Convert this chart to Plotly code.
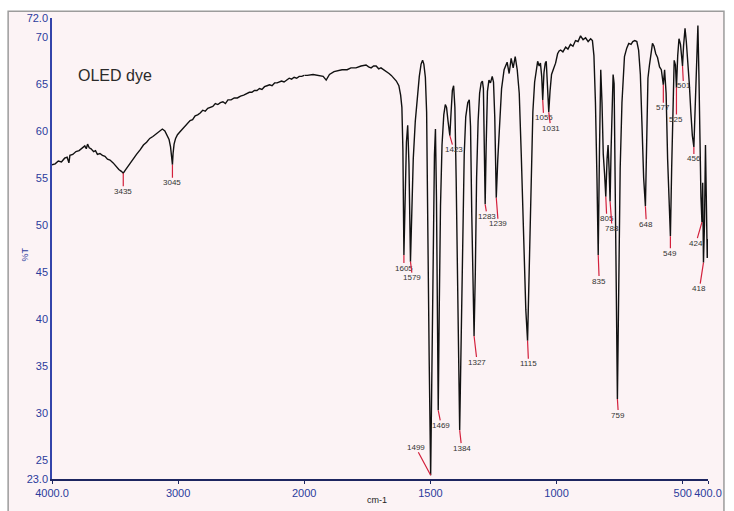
import plotly.graph_objects as go

# IR transmission spectrum of an OLED dye (wavenumber in cm-1, %T)
wavenumber = [
    4000, 3975, 3950, 3925, 3900, 3880, 3866, 3858, 3835, 3810, 3785, 3760, 3740, 3728, 3718,
    3705, 3690, 3670, 3655, 3640, 3620, 3600, 3580, 3560, 3540, 3515, 3490, 3470, 3450, 3435,
    3420, 3400, 3380, 3355, 3330, 3300, 3275, 3250, 3225, 3200, 3175, 3150, 3125, 3105, 3088,
    3072, 3060, 3052, 3045, 3040, 3032, 3020, 3005, 2985, 2965, 2945, 2925, 2905, 2885, 2865,
    2845, 2825, 2805, 2785, 2765, 2745, 2725, 2705, 2685, 2665, 2645, 2625, 2605, 2580, 2555,
    2530, 2505, 2480, 2455, 2435, 2415, 2395, 2375, 2355, 2335, 2315, 2295, 2275, 2255, 2235,
    2215, 2198, 2180, 2160, 2140, 2119, 2100, 2080, 2060, 2040, 2020, 2000,
    1988, 1965, 1941, 1925, 1913, 1900, 1882, 1865, 1850, 1830, 1815, 1795, 1775, 1755, 1745,
    1735, 1725, 1715, 1705, 1696, 1684, 1672, 1664, 1655, 1645, 1635, 1625, 1618, 1613, 1609,
    1605, 1600, 1595, 1590, 1585, 1579, 1574, 1568, 1560, 1552, 1544, 1537, 1531, 1526, 1520,
    1515, 1510, 1505, 1499, 1494, 1489, 1484, 1480, 1476, 1472, 1469, 1465, 1460, 1454, 1447,
    1441, 1436, 1430, 1423, 1418, 1413, 1408, 1403, 1398, 1392, 1384, 1378, 1372, 1366, 1360,
    1352, 1346, 1341, 1336, 1332, 1327, 1322, 1317, 1311, 1305, 1299, 1294, 1290, 1286, 1283,
    1279, 1274, 1268, 1262, 1255, 1250, 1245, 1239, 1233, 1226, 1218, 1208, 1196, 1188, 1180,
    1172, 1164, 1156, 1148, 1140, 1131, 1122, 1115, 1108, 1101, 1094, 1087, 1080, 1075, 1069,
    1064, 1059, 1055, 1050, 1045, 1041, 1036, 1031, 1026, 1020, 1012, 1004, 996, 990, 984,
    975, 964, 955, 945, 935, 925, 915, 905, 895, 885, 875, 865, 858, 852, 846,
    840, 835, 830, 825, 820, 815, 810, 805, 800, 796, 792, 788, 784, 780, 776,
    772, 767, 763, 759, 754, 748, 741, 731, 722, 714, 705, 698, 690, 682, 675,
    668, 662, 655, 648, 643, 638, 632, 626, 620, 614, 607, 600, 592, 585, 577,
    572, 566, 560, 554, 549, 544, 539, 534, 529, 525, 520, 515, 509, 505, 501,
    497, 494, 491, 486, 480, 474, 468, 462, 456, 451, 446, 440, 436, 432, 428,
    424, 421, 418, 414, 410, 406, 403, 400,
]
transmittance = [
    56.4, 56.5, 56.8, 56.7, 57.1, 57.2, 56.6, 57.4, 57.5, 57.8, 57.9, 58.2, 58.4, 58.1, 58.6,
    58.2, 58.1, 57.8, 57.9, 57.5, 57.6, 57.4, 57.3, 57.0, 56.9, 56.6, 56.2, 55.9, 55.7, 55.5,
    55.8, 56.2, 56.6, 57.1, 57.5, 58.0, 58.5, 58.8, 59.2, 59.4, 59.7, 59.9, 60.2, 60.0, 59.6,
    59.1, 58.3, 57.2, 56.4, 57.6, 58.6, 59.2, 59.6, 59.9, 60.2, 60.6, 60.8, 61.1, 61.2, 61.6,
    61.7, 61.9, 62.2, 62.1, 62.4, 62.5, 62.6, 62.9, 62.8, 63.0, 63.1, 62.9, 63.3, 63.3, 63.5,
    63.5, 63.7, 63.8, 64.0, 64.1, 64.1, 64.3, 64.3, 64.5, 64.4, 64.7, 64.8, 64.9, 64.8, 65.1,
    65.1, 65.2, 65.3, 65.2, 65.4, 65.6, 65.5, 65.7, 65.6, 65.8, 65.8, 65.9,
    65.9, 66.0, 65.9, 65.8, 65.4, 66.0, 66.3, 66.4, 66.5, 66.5, 66.7, 66.7, 66.9, 67.0, 66.8,
    66.7, 66.9, 66.9, 66.6, 66.7, 66.5, 66.3, 66.1, 65.9, 65.6, 65.3, 64.8, 63.8, 62.5, 58.0,
    46.8, 55.0, 58.8, 60.6, 56.5, 46.1, 51.5, 57.0, 61.0, 63.8, 65.8, 67.1, 67.5, 67.1, 65.7,
    62.0, 52.0, 36.0, 23.4, 36.0, 50.0, 57.5, 60.2, 53.0, 40.0, 30.3, 41.0, 52.0, 58.5, 61.7,
    62.8, 62.5, 61.0, 59.5, 62.0, 64.3, 64.8, 62.5, 55.0, 42.0, 28.2, 38.0, 50.0, 57.5, 61.5,
    63.0, 63.3, 60.5, 51.0, 43.0, 38.2, 45.0, 55.0, 61.0, 64.0, 65.1, 65.3, 64.5, 58.5, 52.2,
    58.5, 64.2, 65.4, 65.1, 65.8, 65.2, 61.5, 52.9, 57.0, 61.0, 64.5, 66.5, 67.3, 66.1, 67.7,
    66.7, 67.9, 66.5, 64.0, 57.5, 48.0, 41.0, 37.7, 45.0, 55.0, 62.0, 65.2, 66.7, 67.4, 66.9,
    67.2, 65.8, 63.3, 66.2, 67.2, 67.4, 65.0, 62.0, 64.2, 66.0, 66.6, 67.2, 68.2, 68.5, 68.6,
    68.4, 68.9, 68.7, 69.2, 69.0, 69.6, 69.5, 70.1, 69.7, 69.9, 69.5, 69.8, 69.6, 68.0, 63.0,
    55.0, 46.8, 58.0, 66.5, 63.0, 57.5, 55.5, 53.0, 57.0, 58.5, 56.0, 52.5, 58.0, 64.0, 66.0,
    65.0, 55.0, 42.0, 31.5, 43.0, 56.0, 63.0, 67.9, 68.8, 69.3, 69.2, 69.5, 69.6, 69.5, 68.6,
    66.0, 61.0, 55.0, 52.0, 60.0, 65.6, 67.0, 68.5, 69.3, 69.0, 68.2, 67.8, 66.8, 66.5, 64.9,
    66.5, 64.0, 57.0, 51.0, 48.8, 56.0, 64.0, 67.5, 67.0, 64.6, 68.0, 69.8, 69.2, 68.3, 66.9,
    69.0, 70.3, 70.9, 69.5, 67.5, 65.0, 62.0, 59.5, 58.3, 62.0, 67.0, 71.2, 66.0, 56.0, 53.0,
    50.3, 54.5, 46.0, 50.0, 58.5, 52.0, 46.5, 48.5,
]

# Picked peaks (cm-1) that carry a wavenumber label
peak_labels = [3435, 3045, 1605, 1579, 1499, 1469, 1423, 1384, 1327, 1283, 1239, 1115,
               1055, 1031, 835, 805, 788, 759, 648, 577, 549, 525, 501, 456, 424, 418]

# Label placement (pixel offsets of the text from the peak tip)
label_offsets = {
    3435: (0, 18), 3045: (0, 18), 1605: (0, 13), 1579: (2, 16), 1499: (-15, -28),
    1469: (3, 15), 1423: (4, 14), 1384: (2, 18), 1327: (3, 26), 1283: (2, 12),
    1239: (2, 26), 1115: (1, 23), 1055: (1, 18), 1031: (2, 16), 835: (1, 26),
    805: (1, 22), 788: (2, 27), 759: (1, 16), 648: (1, 18), 577: (0, 23),
    549: (0, 17), 525: (0, 32), 501: (1, 20), 456: (0, 12), 424: (-6, 21), 418: (-4, 26),
}

y_ticks = [23, 25, 30, 35, 40, 45, 50, 55, 60, 65, 70, 72]
y_ticktext = ["23.0", "25", "30", "35", "40", "45", "50", "55", "60", "65", "70", "72.0"]
x_left_ticks = [4000, 3000]
x_left_text = ["4000.0", "3000"]
x_right_ticks = [2000, 1500, 1000, 500, 400]
x_right_text = ["2000", "1500", "1000", "500", "400.0"]

T_at = dict(zip(wavenumber, transmittance))

# The wavenumber axis changes scale at 2000 cm-1: two x axes side by side
left_wn = [w for w in wavenumber if w >= 2000]
left_t = [T_at[w] for w in left_wn]
right_wn = [w for w in wavenumber if w <= 2000]
right_t = [T_at[w] for w in right_wn]

W, H = 734, 511
ML, MR, MT, MB = 52, 24, 14, 27
pw = W - ML - MR
ph = H - MT - MB
split = (305 - ML) / pw

TICK_COLOR = "#2b3b9c"
FONT = "Liberation Sans"

fig = go.Figure()
line_style = dict(color="#111111", width=1.4)
fig.add_trace(go.Scatter(x=left_wn, y=left_t, mode="lines", line=line_style,
                         xaxis="x", yaxis="y", showlegend=False, hoverinfo="skip"))
fig.add_trace(go.Scatter(x=right_wn, y=right_t, mode="lines", line=line_style,
                         xaxis="x2", yaxis="y", showlegend=False, hoverinfo="skip"))

annotations = []
for wn in peak_labels:
    ax, ay = label_offsets[wn]
    annotations.append(dict(
        x=wn, y=T_at[wn], xref="x" if wn > 2000 else "x2", yref="y",
        text=str(wn), showarrow=True, arrowhead=0, arrowwidth=1.2,
        arrowcolor="#d3203c", ax=ax, ay=ay, standoff=0, startstandoff=0,
        font=dict(family=FONT, size=8, color="#333333"), borderpad=0,
    ))

def px_x(p):
    return (p - ML) / pw

def px_y(p):
    return (H - MB - p) / ph

annotations.append(dict(x=px_x(115), y=px_y(73), xref="paper", yref="paper",
                        xanchor="center", yanchor="middle",
                        text="OLED dye", showarrow=False,
                        font=dict(family=FONT, size=16, color="#2a2a2a")))
annotations.append(dict(x=px_x(25), y=px_y(255), xref="paper", yref="paper",
                        xanchor="center", yanchor="middle",
                        text="%T", textangle=-90, showarrow=False,
                        font=dict(family=FONT, size=9, color=TICK_COLOR)))
annotations.append(dict(x=px_x(378), y=px_y(497), xref="paper", yref="paper",
                        xanchor="center", yanchor="middle", yshift=-8,
                        text="cm-1", showarrow=False,
                        font=dict(family=FONT, size=9, color="#222222")))

axis_font = dict(family=FONT, size=11, color=TICK_COLOR)
xcommon = dict(showgrid=False, zeroline=False, showline=True, linecolor="#1d2560",
               linewidth=2, ticks="outside", ticklen=3, tickcolor="#1d2560",
               tickfont=axis_font, anchor="y")

fig.update_layout(
    width=W, height=H,
    margin=dict(l=ML, r=MR, t=MT, b=MB),
    paper_bgcolor="white", plot_bgcolor="rgba(0,0,0,0)",
    xaxis=dict(domain=[0, split], range=[4000, 2000], tickvals=x_left_ticks,
               ticktext=x_left_text, **xcommon),
    xaxis2=dict(domain=[split, 1], range=[2000, 400], tickvals=x_right_ticks,
                ticktext=x_right_text, **xcommon),
    yaxis=dict(range=[23, 72], tickvals=y_ticks, ticktext=y_ticktext, showgrid=False,
               zeroline=False, showline=True, linecolor="#3344aa", linewidth=1.5,
               ticks="", tickfont=axis_font),
    shapes=[dict(type="rect", xref="paper", yref="paper",
                 x0=px_x(8), x1=px_x(726), y0=px_y(530), y1=px_y(7),
                 fillcolor="#fcf3f5", line=dict(color="#9c9c9c", width=1.5),
                 layer="below")],
    annotations=annotations,
)

fig.write_html("out.html")
